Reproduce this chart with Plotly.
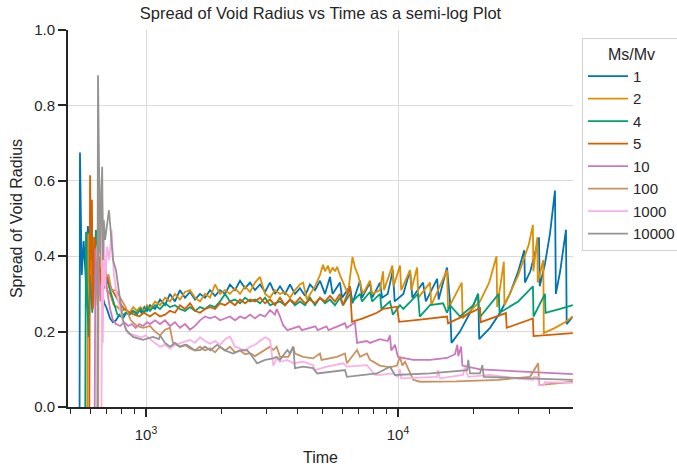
import plotly.graph_objects as go

# Ms/Mv ratios (legend)
ratios = ["1", "2", "4", "5", "10", "100", "1000", "10000"]
colors = ["#0173b2", "#de8f05", "#029e73", "#d55e00", "#cc78bc", "#ca9161", "#fbafe4", "#949494"]

t_1 = [545, 547, 556, 566, 578, 588, 600, 615, 632, 650, 668, 684, 700, 720, 740, 760, 785, 810, 835, 860, 885, 910, 935, 960, 985, 1010,
       1037, 1086, 1137, 1190, 1245, 1303, 1364, 1428, 1495, 1565, 1638, 1715, 1795, 1879, 1967, 2059, 2154, 2255, 2361, 2471, 2587, 2707,
       2834, 2967, 3105, 3251, 3402, 3561, 3728, 3902, 4084, 4275, 4475, 4684, 4903, 5132, 5372, 5500, 5886, 6000, 6449, 6600, 7066, 7200,
       7742, 7900, 8483, 8650, 9100, 9540, 9700, 10500, 11160, 11400, 12570, 12900, 14300, 14500, 15650, 15800, 16080, 16300, 17620, 19300,
       20800, 21000, 23180, 25400, 27800, 30000, 31700, 31900, 33500, 35000, 36250, 36500, 38300, 40100, 41970, 42300, 44000, 46400, 46700, 49400]
r_1 = [0.0, 0.675, 0.35, 0.44, 0.33, 0.48, 0.37, 0.45, 0.36, 0.40, 0.30, 0.275, 0.26, 0.235, 0.225, 0.23, 0.245, 0.235, 0.25, 0.245, 0.255, 0.25, 0.26, 0.25, 0.265, 0.255,
       0.27, 0.26, 0.285, 0.27, 0.30, 0.28, 0.31, 0.29, 0.305, 0.285, 0.30, 0.29, 0.31, 0.295, 0.31, 0.30, 0.325, 0.31, 0.335, 0.315, 0.33, 0.31,
       0.325, 0.305, 0.33, 0.30, 0.32, 0.30, 0.325, 0.30, 0.315, 0.295, 0.325, 0.31, 0.335, 0.30, 0.345, 0.30, 0.33, 0.29, 0.32, 0.275, 0.335, 0.29,
       0.33, 0.29, 0.33, 0.29, 0.30, 0.363, 0.28, 0.30, 0.363, 0.29, 0.33, 0.28, 0.34, 0.285, 0.37, 0.33, 0.28, 0.17, 0.20, 0.25,
       0.30, 0.18, 0.21, 0.25, 0.30, 0.36, 0.416, 0.33, 0.36, 0.41, 0.45, 0.32, 0.38, 0.46, 0.574, 0.30, 0.36, 0.47, 0.22, 0.24]

t_2 = [585, 590, 597, 605, 612, 620, 630, 645, 660, 680, 700, 720, 745, 770, 800, 830, 860, 890, 920, 950, 985, 1010,
       1037, 1086, 1137, 1190, 1245, 1303, 1364, 1428, 1495, 1565, 1638, 1715, 1795, 1879, 1967, 2059, 2154, 2255, 2361, 2471, 2587, 2707,
       2834, 2967, 3105, 3251, 3402, 3561, 3728, 3902, 4084, 4200, 4350, 4684, 4903, 5040, 5132, 5280, 5372, 5500, 5623, 5730, 5886, 6050,
       6330, 6600, 6750, 6940, 7260, 7742, 7900, 8480, 8720, 8800, 9500, 9600, 10180, 10300, 11160, 11300, 11900, 12050, 13400, 13550,
       15650, 15800, 17900, 18050, 21150, 23000, 24600, 24750, 26300, 26450, 30000, 33000, 34300, 34450, 35700, 35850, 37700, 37900,
       42000, 46000, 49400]
r_2 = [0.0, 0.46, 0.33, 0.50, 0.30, 0.45, 0.27, 0.40, 0.30, 0.36, 0.31, 0.30, 0.27, 0.265, 0.255, 0.26, 0.25, 0.265, 0.255, 0.265, 0.255, 0.27,
       0.26, 0.28, 0.27, 0.29, 0.28, 0.30, 0.285, 0.305, 0.31, 0.29, 0.28, 0.30, 0.29, 0.325, 0.30, 0.31, 0.30, 0.315, 0.30, 0.32, 0.305, 0.33,
       0.345, 0.30, 0.29, 0.31, 0.30, 0.305, 0.29, 0.31, 0.325, 0.33, 0.285, 0.32, 0.35, 0.377, 0.36, 0.375, 0.355, 0.37, 0.36, 0.372, 0.35, 0.33,
       0.30, 0.398, 0.37, 0.35, 0.30, 0.335, 0.30, 0.31, 0.36, 0.31, 0.375, 0.32, 0.375, 0.31, 0.363, 0.31, 0.37, 0.29, 0.33, 0.27,
       0.363, 0.26, 0.33, 0.235, 0.28, 0.33, 0.40, 0.265, 0.385, 0.27, 0.35, 0.43, 0.483, 0.36, 0.45, 0.33, 0.39, 0.196,
       0.21, 0.225, 0.24]

t_4 = [574, 578, 584, 592, 600, 612, 625, 633, 645, 660, 680, 695, 720, 750, 770, 800, 830, 860, 890, 920, 950, 985, 1010,
       1037, 1086, 1137, 1190, 1245, 1303, 1364, 1428, 1495, 1565, 1638, 1715, 1795, 1879, 1967, 2059, 2154, 2255, 2361, 2471, 2587, 2707,
       2834, 2967, 3105, 3251, 3402, 3561, 3728, 3902, 4084, 4275, 4475, 4684, 4903, 5132, 5372, 5623, 5886, 6050, 6449, 6600, 7066, 7200,
       7742, 7900, 8483, 8600, 9294, 9540, 10180, 10500, 12000, 12200, 13400, 15100, 15650, 16080, 17620, 19900, 20800, 21000,
       25100, 25300, 30000, 34300, 34500, 38300, 38500, 44000, 49400]
r_4 = [0.0, 0.465, 0.30, 0.186, 0.35, 0.25, 0.40, 0.47, 0.40, 0.39, 0.40, 0.345, 0.31, 0.27, 0.245, 0.24, 0.25, 0.245, 0.255, 0.245, 0.26, 0.25, 0.265,
       0.255, 0.27, 0.26, 0.275, 0.265, 0.27, 0.26, 0.255, 0.265, 0.255, 0.265, 0.26, 0.27, 0.265, 0.28, 0.30, 0.28, 0.285, 0.275, 0.29, 0.28, 0.285,
       0.275, 0.29, 0.27, 0.275, 0.28, 0.27, 0.285, 0.27, 0.28, 0.27, 0.29, 0.27, 0.29, 0.275, 0.285, 0.27, 0.29, 0.27, 0.30, 0.28, 0.30, 0.28,
       0.305, 0.28, 0.30, 0.26, 0.28, 0.245, 0.27, 0.26, 0.30, 0.24, 0.27, 0.275, 0.25, 0.27, 0.24, 0.27, 0.30, 0.236,
       0.30, 0.25, 0.28, 0.32, 0.24, 0.30, 0.25, 0.26, 0.27]

t_5 = [596, 600, 605, 610, 615, 625, 640, 655, 670, 688, 700, 720, 750, 780, 820, 860, 900, 940, 980, 1010,
       1037, 1086, 1137, 1190, 1245, 1303, 1364, 1428, 1495, 1565, 1638, 1715, 1795, 1879, 1967, 2059, 2154, 2255, 2361, 2471, 2587, 2707,
       2834, 2967, 3105, 3251, 3402, 3561, 3728, 3902, 4084, 4275, 4475, 4684, 4903, 5132, 5372, 5623, 5886, 6050, 6449, 6570, 7260, 8250,
       8720, 9900, 10100, 12230, 15650, 15800, 21150, 21300, 26800, 27000, 34300, 34500, 49400]
r_5 = [0.0, 0.615, 0.39, 0.55, 0.26, 0.45, 0.30, 0.38, 0.30, 0.33, 0.35, 0.32, 0.30, 0.28, 0.26, 0.25, 0.245, 0.24, 0.25, 0.245,
       0.24, 0.25, 0.24, 0.245, 0.255, 0.25, 0.27, 0.26, 0.275, 0.255, 0.25, 0.26, 0.265, 0.26, 0.275, 0.27, 0.28, 0.27, 0.285, 0.275, 0.285, 0.28,
       0.29, 0.275, 0.285, 0.27, 0.29, 0.27, 0.285, 0.275, 0.29, 0.275, 0.285, 0.275, 0.29, 0.28, 0.295, 0.28, 0.30, 0.27, 0.318, 0.226, 0.235, 0.25,
       0.26, 0.266, 0.226, 0.232, 0.24, 0.222, 0.262, 0.225, 0.249, 0.21, 0.235, 0.188, 0.196]

t_10 = [626, 630, 638, 648, 660, 675, 690, 705, 720, 740, 760, 790, 820, 850, 880, 910, 940, 975, 1010,
        1037, 1086, 1137, 1190, 1245, 1303, 1364, 1428, 1495, 1565, 1638, 1715, 1795, 1879, 1967, 2059, 2154, 2255, 2361, 2471, 2587, 2707,
        2834, 2967, 3105, 3251, 3300, 3402, 3500, 3640, 4050, 4150, 4700, 4800, 5200, 5300, 5750, 6160, 6250, 6750, 6880, 7500, 7740,
        8480, 9100, 9290, 9400, 9730, 9850, 10000, 11500, 13400, 15650, 16830, 17200, 17350, 17800, 18000, 21150, 25400, 33400, 49400]
r_10 = [0.0, 0.42, 0.30, 0.36, 0.28, 0.39, 0.34, 0.30, 0.26, 0.23, 0.22, 0.215, 0.225, 0.215, 0.22, 0.21, 0.22, 0.215, 0.225,
        0.22, 0.23, 0.22, 0.23, 0.215, 0.225, 0.21, 0.22, 0.205, 0.215, 0.23, 0.24, 0.235, 0.24, 0.23, 0.235, 0.24, 0.23, 0.24, 0.235, 0.245, 0.235,
        0.245, 0.24, 0.257, 0.245, 0.26, 0.24, 0.217, 0.204, 0.214, 0.204, 0.214, 0.204, 0.214, 0.204, 0.214, 0.222, 0.21, 0.224, 0.17, 0.175, 0.17,
        0.18, 0.175, 0.19, 0.15, 0.165, 0.15, 0.133, 0.125, 0.125, 0.13, 0.14, 0.165, 0.135, 0.16, 0.11, 0.10, 0.097, 0.093, 0.087]

t_100 = [646, 650, 655, 662, 668, 675, 690, 710, 730, 760, 790, 830, 870, 920, 975, 1037, 1086, 1137, 1190, 1245, 1280, 1364, 1428, 1495,
         1565, 1638, 1715, 1795, 1879, 1967, 2059, 2154, 2255, 2361, 2471, 2587, 2707, 2834, 2967, 3105, 3200, 3300, 3402, 3670, 3840, 3900,
         4200, 4600, 4900, 4970, 5730, 6160, 6270, 6880, 7066, 7530, 7740, 8480, 9294, 9900, 10180, 10400, 10660, 10900, 11500, 12230,
         17000, 25000, 33400, 36000, 36300, 49400]
r_100 = [0.0, 0.635, 0.57, 0.37, 0.60, 0.39, 0.345, 0.35, 0.31, 0.31, 0.29, 0.265, 0.23, 0.215, 0.21, 0.215, 0.20, 0.19, 0.205, 0.21, 0.17, 0.16, 0.165, 0.155,
         0.15, 0.16, 0.15, 0.156, 0.145, 0.16, 0.15, 0.16, 0.145, 0.15, 0.14, 0.143, 0.135, 0.143, 0.15, 0.16, 0.151, 0.16, 0.133, 0.133, 0.16, 0.142,
         0.133, 0.129, 0.142, 0.125, 0.133, 0.142, 0.116, 0.151, 0.133, 0.142, 0.125, 0.11, 0.105, 0.11, 0.133, 0.11, 0.12, 0.107, 0.072, 0.067,
         0.068, 0.072, 0.08, 0.116, 0.058, 0.067]

t_1000 = [666, 670, 674, 680, 688, 700, 715, 730, 745, 765, 790, 810, 850, 900, 960, 1000, 1037, 1086, 1137, 1190, 1245, 1303, 1364, 1428,
          1495, 1565, 1638, 1715, 1795, 1879, 1967, 2059, 2154, 2255, 2361, 2471, 2587, 2707, 2834, 2967, 3105, 3200, 3300, 3402, 3640, 3840,
          4200, 4350, 4600, 4680, 5230, 6050, 6270, 7530, 8100, 8480, 9540, 10000, 10180, 10300, 14300, 14400, 14680, 18100, 18400, 19000,
          23180, 30000, 34300, 34500, 36000, 36200, 38000, 38200, 49400]
r_1000 = [0.0, 0.505, 0.17, 0.45, 0.32, 0.425, 0.39, 0.47, 0.355, 0.30, 0.257, 0.23, 0.195, 0.19, 0.185, 0.19, 0.18, 0.17, 0.16, 0.165, 0.155, 0.165, 0.17, 0.175,
          0.178, 0.17, 0.185, 0.175, 0.168, 0.175, 0.165, 0.18, 0.187, 0.16, 0.155, 0.15, 0.16, 0.165, 0.175, 0.185, 0.178, 0.11, 0.129, 0.12, 0.125, 0.116,
          0.12, 0.116, 0.111, 0.098, 0.107, 0.116, 0.107, 0.111, 0.085, 0.085, 0.089, 0.080, 0.10, 0.076, 0.080, 0.098, 0.076, 0.085, 0.105, 0.080,
          0.085, 0.075, 0.072, 0.08, 0.08, 0.058, 0.058, 0.066, 0.064]

t_10000 = [641, 645, 657, 670, 675, 680, 688, 706, 713, 726, 740, 760, 781, 810, 833, 888, 973, 1066, 1126, 1137, 1190, 1245, 1303, 1364,
           1450, 1565, 1638, 1715, 1800, 1915, 2059, 2215, 2361, 2520, 2600, 2760, 2967, 3200, 3300, 3402, 3640, 3730, 3840, 3900, 4200,
           4600, 4780, 5500, 6160, 6270, 7260, 8250, 9294, 9730, 13400, 18800, 19000, 19300, 21150, 21600, 21900, 30000, 40000, 49400]
r_10000 = [0.0, 0.88, 0.408, 0.637, 0.39, 0.496, 0.443, 0.505, 0.522, 0.46, 0.39, 0.363, 0.30, 0.231, 0.204, 0.186, 0.178, 0.186, 0.18, 0.19, 0.17, 0.16, 0.17, 0.16,
           0.165, 0.15, 0.151, 0.16, 0.15, 0.165, 0.15, 0.142, 0.15, 0.151, 0.14, 0.116, 0.125, 0.129, 0.133, 0.125, 0.151, 0.142, 0.16, 0.103, 0.107,
           0.103, 0.089, 0.093, 0.098, 0.080, 0.085, 0.089, 0.107, 0.085, 0.089, 0.098, 0.125, 0.089, 0.089, 0.111, 0.080, 0.076, 0.074, 0.072]

series_t = [t_1, t_2, t_4, t_5, t_10, t_100, t_1000, t_10000]
series_r = [r_1, r_2, r_4, r_5, r_10, r_100, r_1000, r_10000]

major_ticks = [1000, 10000]
major_text = ["10<sup>3</sup>", "10<sup>4</sup>"]
minor_ticks = [500, 600, 700, 800, 900, 2000, 3000, 4000, 5000, 6000, 7000, 8000, 9000, 20000, 30000, 40000]
y_ticks = [0.0, 0.2, 0.4, 0.6, 0.8, 1.0]

FONT = "Liberation Sans, Arial, sans-serif"
INK = "#262626"

fig = go.Figure()
for name, tt, rr, c in zip(ratios, series_t, series_r, colors):
    fig.add_trace(go.Scatter(x=tt, y=rr, mode="lines", name=name,
                             line=dict(color=c, width=1.8)))

fig.update_layout(
    width=677, height=468,
    margin=dict(l=68, r=104, t=30, b=61, autoexpand=False),
    paper_bgcolor="white", plot_bgcolor="white",
    font=dict(family=FONT, size=15, color=INK),
    title=dict(text="Spread of Void Radius vs Time as a semi-log Plot",
               x=0.5, xref="paper", xanchor="center",
               y=1 - 13 / 468, yref="container", yanchor="middle",
               font=dict(size=16.5, color=INK)),
    legend=dict(x=(582 - 68) / 505, y=(407 - 38) / 377, xanchor="left", yanchor="top",
                bordercolor="#d0d0d0", borderwidth=1, bgcolor="white",
                font=dict(size=15, color=INK),
                title=dict(text="Ms/Mv", side="top center", font=dict(size=16, color=INK)),
                itemwidth=40, tracegroupgap=0),
    showlegend=True,
)

fig.update_xaxes(
    type="log", range=[2.6905, 4.6944],
    tickmode="array", tickvals=major_ticks, ticktext=major_text,
    ticks="outside", ticklen=8, tickwidth=1.5, tickcolor=INK,
    ticklabelstandoff=5,
    showline=True, linecolor=INK, linewidth=1.7, mirror=False,
    showgrid=True, gridcolor="#dadada", gridwidth=1.2,
    zeroline=False,
    minor=dict(tickmode="array", tickvals=minor_ticks, ticks="outside", ticklen=5,
               tickwidth=1.2, tickcolor=INK, showgrid=False),
    title=dict(text="Time", standoff=10, font=dict(size=16, color=INK)),
    tickfont=dict(size=15, color=INK),
)
fig.update_yaxes(
    range=[0, 1], tickmode="array", tickvals=y_ticks, tickformat=".1f",
    ticks="outside", ticklen=8, tickwidth=1.5, tickcolor=INK,
    showline=True, linecolor=INK, linewidth=1.7, mirror=False,
    showgrid=True, gridcolor="#dadada", gridwidth=1.2,
    zeroline=False,
    title=dict(text="Spread of Void Radius", standoff=8, font=dict(size=16, color=INK)),
    tickfont=dict(size=15, color=INK),
)

fig.write_html("out.html")
